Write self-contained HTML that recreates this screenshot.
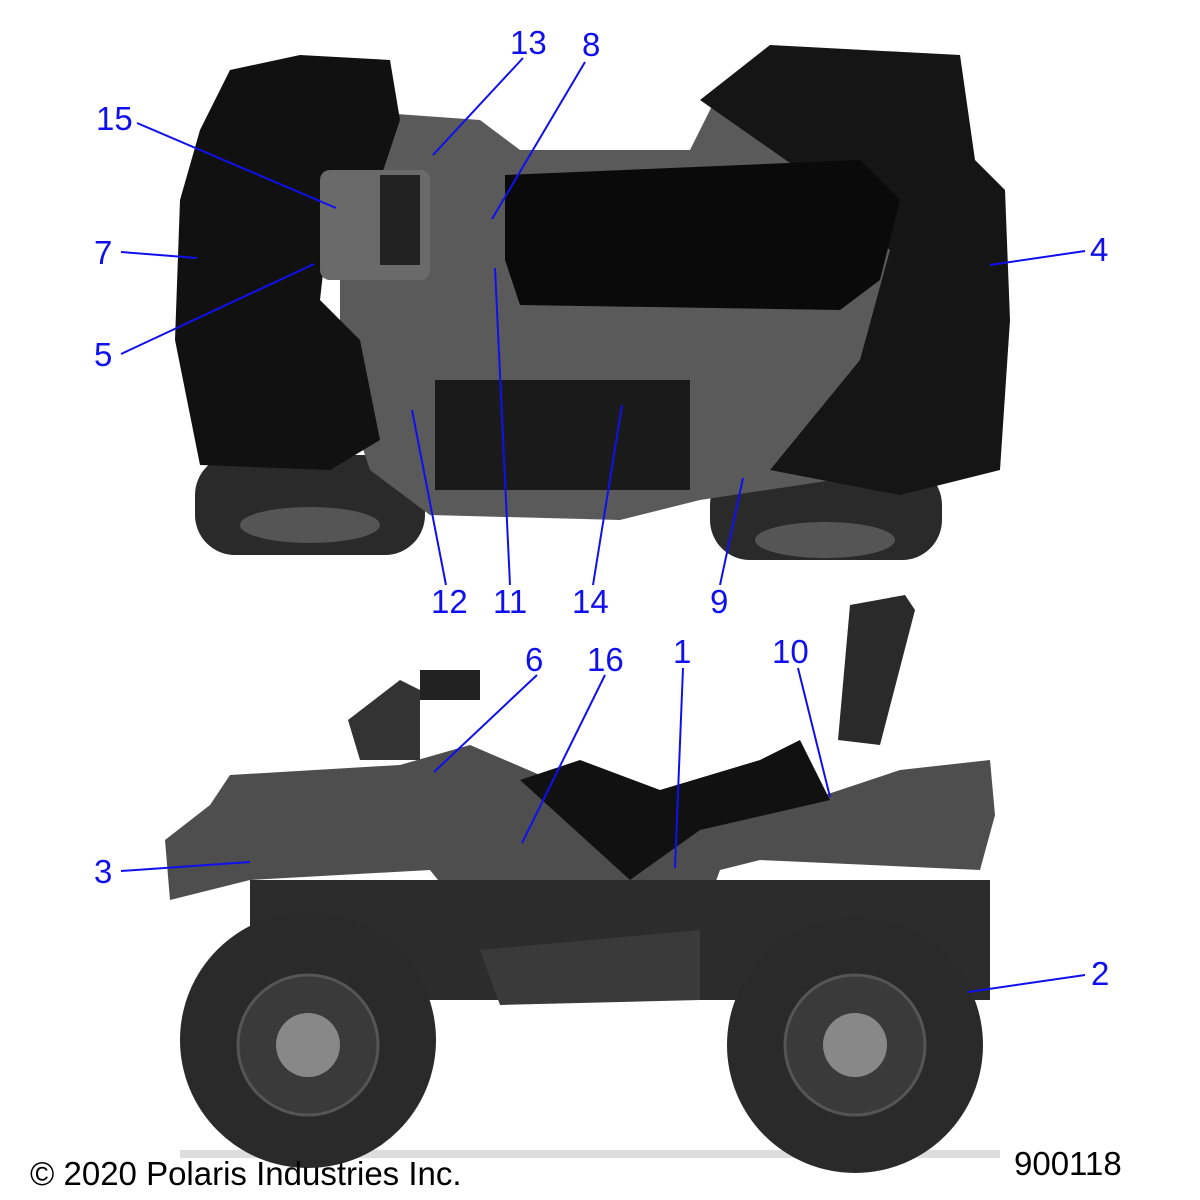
<!DOCTYPE html>
<html><head><meta charset="utf-8"><style>
html,body{margin:0;padding:0;background:#fff;width:1200px;height:1200px;overflow:hidden}
svg{display:block}
.l{font-family:"Liberation Sans",sans-serif;font-size:33px;fill:#1010ee}
.ln{stroke:#1010ee;stroke-width:2}
</style></head><body>
<svg width="1200" height="1200" viewBox="0 0 1200 1200">
<rect x="195" y="455" width="230" height="100" rx="40" fill="#2a2a2a"/>
<ellipse cx="310" cy="525" rx="70" ry="18" fill="#555"/>
<rect x="710" y="465" width="232" height="95" rx="40" fill="#2a2a2a"/>
<ellipse cx="825" cy="540" rx="70" ry="18" fill="#555"/>
<path d="M340 110 L480 120 L520 150 L690 150 L720 90 L790 60 L880 70 L920 120 L940 330 L900 470 L700 500 L620 520 L430 515 L370 470 L340 380 Z" fill="#5a5a5a"/>
<path d="M230 70 L300 55 L390 60 L400 120 L380 180 L330 210 L320 300 L360 340 L380 440 L330 470 L200 465 L175 340 L180 200 L200 130 Z" fill="#111"/>
<path d="M700 100 L770 45 L960 55 L975 160 L1005 190 L1010 320 L1000 470 L900 495 L770 470 L860 360 L890 250 L800 170 Z" fill="#151515"/>
<path d="M505 175 L860 160 L900 200 L880 280 L840 310 L520 305 L505 260 Z" fill="#0a0a0a"/>
<rect x="320" y="170" width="110" height="110" rx="10" fill="#6a6a6a"/>
<rect x="380" y="175" width="40" height="90" fill="#222"/>
<rect x="435" y="380" width="255" height="110" fill="#1a1a1a"/>
<path d="M850 605 L905 595 L915 610 L880 745 L838 740 Z" fill="#2a2a2a"/>
<path d="M210 805 L230 775 L400 765 L470 745 L540 775 L600 790 L700 800 L810 800 L900 770 L990 760 L995 815 L980 870 L760 860 L720 870 L700 925 L660 980 L520 1000 L470 920 L430 870 L250 880 L170 900 L165 840 Z" fill="#4e4e4e"/>
<path d="M520 780 L580 760 L660 790 L760 760 L800 740 L830 800 L700 830 L630 880 Z" fill="#111"/>
<path d="M348 720 L400 680 L420 690 L420 760 L360 760 Z" fill="#333"/>
<rect x="420" y="670" width="60" height="30" fill="#222"/>
<rect x="250" y="880" width="740" height="120" fill="#2c2c2c"/>
<path d="M480 950 L700 930 L700 1000 L500 1005 Z" fill="#3a3a3a"/>
<rect x="180" y="1150" width="820" height="8" fill="#ddd"/>
<circle cx="308" cy="1040" r="128" fill="#2a2a2a"/>
<circle cx="308" cy="1045" r="70" fill="#3a3a3a" stroke="#555" stroke-width="3"/>
<circle cx="308" cy="1045" r="32" fill="#888"/>
<circle cx="855" cy="1045" r="128" fill="#2a2a2a"/>
<circle cx="855" cy="1045" r="70" fill="#3a3a3a" stroke="#555" stroke-width="3"/>
<circle cx="855" cy="1045" r="32" fill="#888"/>
<g class="ln">
<line x1="523" y1="58" x2="433" y2="155"/>
<line x1="585" y1="62" x2="492" y2="219"/>
<line x1="137" y1="123" x2="336" y2="208"/>
<line x1="121" y1="252" x2="197" y2="258"/>
<line x1="121" y1="354" x2="314" y2="264"/>
<line x1="1085" y1="251" x2="990" y2="265"/>
<line x1="446" y1="585" x2="412" y2="410"/>
<line x1="510" y1="585" x2="495" y2="268"/>
<line x1="593" y1="585" x2="622" y2="405"/>
<line x1="720" y1="585" x2="743" y2="478"/>
<line x1="537" y1="675" x2="434" y2="772"/>
<line x1="605" y1="675" x2="522" y2="843"/>
<line x1="683" y1="668" x2="675" y2="868"/>
<line x1="798" y1="668" x2="830" y2="797"/>
<line x1="121" y1="871" x2="250" y2="862"/>
<line x1="1085" y1="975" x2="968" y2="992"/>
</g>
<g class="l">
<text x="510" y="54">13</text>
<text x="582" y="56">8</text>
<text x="96" y="130">15</text>
<text x="94" y="264">7</text>
<text x="94" y="366">5</text>
<text x="1090" y="261">4</text>
<text x="431" y="613">12</text>
<text x="493" y="613">11</text>
<text x="572" y="613">14</text>
<text x="710" y="613">9</text>
<text x="525" y="671">6</text>
<text x="587" y="671">16</text>
<text x="673" y="663">1</text>
<text x="772" y="663">10</text>
<text x="94" y="883">3</text>
<text x="1091" y="985">2</text>
</g>
<text x="30" y="1185" font-family="Liberation Sans,sans-serif" font-size="33" fill="#000">© 2020 Polaris Industries Inc.</text>
<text x="1014" y="1175" font-family="Liberation Sans,sans-serif" font-size="33" fill="#000">900118</text>
</svg>
</body></html>
